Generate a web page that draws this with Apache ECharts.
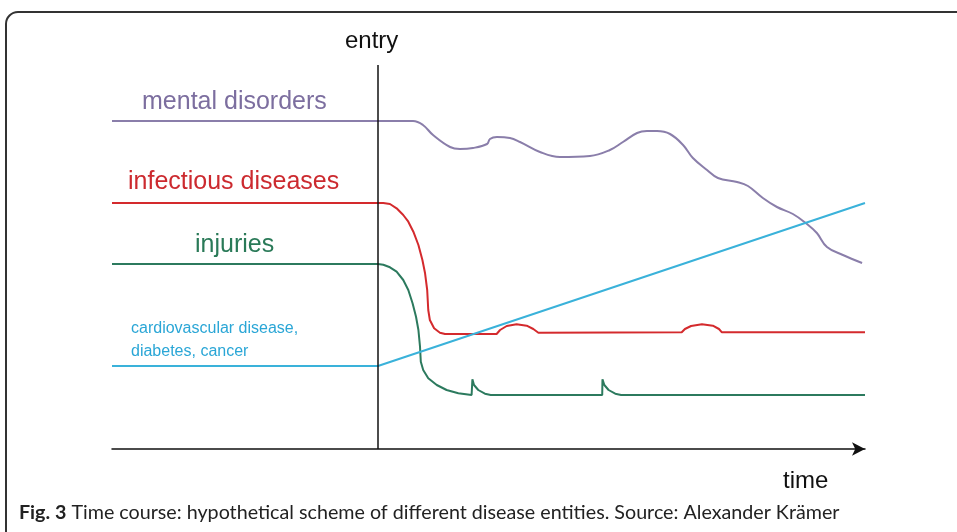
<!DOCTYPE html>
<html><head><meta charset="utf-8">
<script src="https://cdn.jsdelivr.net/npm/echarts@6/dist/echarts.min.js"></script>
<style>html,body{margin:0;padding:0;background:#fff}#c{width:957px;height:532px}</style>
</head><body><div id="c"></div>
<script>
// time relative to entry (arbitrary units), level (arbitrary units)
var mentalX = [-10,0,1.32,1.69,2.07,2.71,3.08,3.57,4.10,4.21,4.47,4.96,5.34,6.09,6.84,7.97,8.72,9.21,9.74,10.11,10.49,10.98,11.47,11.84,12.37,12.78,13.50,13.91,14.47,15.00,15.60,16.13,16.50,16.88,17.48,18.20];
var mentalY = [32.8,32.8,32.8,32.4,31.4,30.2,30.0,30.1,30.5,31.0,31.2,31.1,30.7,29.7,29.2,29.3,29.9,30.7,31.6,31.8,31.8,31.5,30.4,29.1,27.9,27.1,26.7,26.3,25.1,24.2,23.5,22.5,21.6,20.2,19.4,18.6];
var infectX = [-10,0,0.20,0.45,0.70,0.95,1.14,1.33,1.52,1.67,1.77,1.85,1.89,1.95,2.11,2.33,2.52,4.46,4.59,4.84,5.21,5.59,5.84,6.03,11.42,11.54,11.77,12.18,12.59,12.82,12.93,18.31];
var infectY = [24.6,24.6,24.6,24.5,24.07,23.4,22.73,21.73,20.4,18.9,17.57,15.9,13.9,12.9,12.07,11.63,11.5,11.5,11.9,12.3,12.47,12.33,12.0,11.63,11.67,12.0,12.3,12.47,12.33,12.0,11.67,11.67];
var injuryX = [-10,0,0.20,0.45,0.70,0.95,1.14,1.30,1.43,1.52,1.58,1.61,1.70,1.89,2.21,2.58,3.02,3.52,3.55,3.61,3.77,4.02,4.24,8.43,8.44,8.51,8.67,8.92,9.14,18.31];
var injuryY = [18.5,18.5,18.43,18.17,17.73,16.9,15.9,14.57,13.23,11.9,10.23,8.73,7.9,7.07,6.4,5.9,5.57,5.4,6.97,6.4,5.9,5.53,5.4,5.4,6.97,6.4,5.9,5.53,5.4,5.4];
var cardioX = [-10,0,18.31];
var cardioY = [8.3,8.3,24.6];
var seriesNames = ['mental disorders','infectious diseases','injuries','cardiovascular disease,\ndiabetes, cancer'];
var axisLabels = ['entry','time'];
var caption = 'Time course: hypothetical scheme of different disease entities. Source: Alexander Krämer';

function pairs(xs, ys){ return xs.map(function(x,i){ return [x, ys[i]]; }); }
var colors = ['#8a7eaa','#d42a2d','#2c7a5e','#3ab2da'];
var labelColors = ['#7c6e9f','#cc2a2f','#2a7a58','#2aa6d6'];

var chart = echarts.init(document.getElementById('c'), null, {renderer:'canvas'});
function line(name, data, color, smooth, extra){
  var s = {name:name, type:'line', data:data, symbol:'none', smooth:smooth,
    lineStyle:{color:color, width:2}, z:3};
  if (extra) for (var k in extra) s[k]=extra[k];
  return s;
}
chart.setOption({
  animation:false,
  backgroundColor:'#fff',
  grid:{left:112, right:92, top:65, bottom:83},
  xAxis:{type:'value', min:-10, max:18.31, splitLine:{show:false}, axisTick:{show:false}, axisLabel:{show:false},
    axisLine:{show:true, onZero:true, symbol:['none','arrow'], symbolSize:[10,13], lineStyle:{color:'#111', width:1.5}}},
  yAxis:{type:'value', min:0, max:38.4, show:false},
  series:[
    line(seriesNames[0], pairs(mentalX, mentalY), colors[0], 0.4),
    line(seriesNames[1], pairs(infectX, infectY), colors[1], false),
    line(seriesNames[2], pairs(injuryX, injuryY), colors[2], false),
    line(seriesNames[3], pairs(cardioX, cardioY), colors[3], false, {
      markLine:{silent:true, symbol:'none', label:{show:false}, lineStyle:{color:'#111', width:1.5, type:'solid'},
        data:[{xAxis:0}]}
    })
  ],
  graphic:[
    {type:'rect', shape:{x:6, y:12, width:1000, height:600, r:12}, style:{fill:'none', stroke:'#333', lineWidth:2}, z:0},
    {type:'text', left:345, top:29, style:{text:axisLabels[0], font:'24px "Liberation Sans", Arial', fill:'#111'}},
    {type:'text', left:783, top:469, style:{text:axisLabels[1], font:'24px "Liberation Sans", Arial', fill:'#111'}},
    {type:'text', left:142, top:90, style:{text:seriesNames[0], font:'25px "Liberation Sans", Arial', fill:labelColors[0]}},
    {type:'text', left:128, top:170, style:{text:seriesNames[1], font:'25px "Liberation Sans", Arial', fill:labelColors[1]}},
    {type:'text', left:195, top:233, style:{text:seriesNames[2], font:'25px "Liberation Sans", Arial', fill:labelColors[2]}},
    {type:'text', left:131, top:317, style:{text:seriesNames[3], font:'16px "Liberation Sans", Arial', lineHeight:23, fill:labelColors[3]}},
    {type:'text', left:19, top:503, style:{text:'{b|Fig. 3} '+caption, rich:{b:{font:'bold 19.7px Lato', fill:'#222'}}, font:'19.7px Lato', fill:'#222'}}
  ]
});
</script></body></html>
